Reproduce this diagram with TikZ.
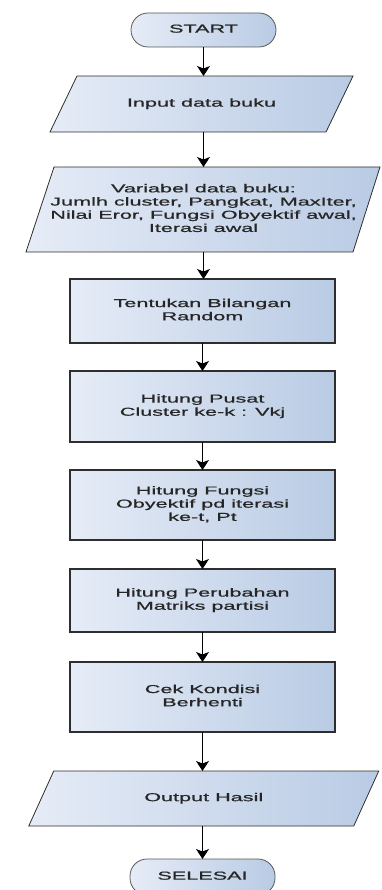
\documentclass[tikz,border=0pt]{standalone}
\usepackage{fontspec}
\usepackage{graphicx}
\setmainfont{Liberation Sans}
\newfontfamily\lbfont[FakeBold=0.6]{Liberation Sans}
\usetikzlibrary{arrows.meta,backgrounds}
\definecolor{fillL}{HTML}{E6ECF7}
\definecolor{fillR}{HTML}{B9CBE4}
\definecolor{edge}{HTML}{2E2E2E}
\definecolor{txtc}{HTML}{262626}
\newcommand{\tx}[1]{\raisebox{-1.8pt}{\scalebox{1.88}[1]{\begin{tabular}{@{}c@{}}#1\end{tabular}}}}
\tikzset{
  lbl/.style={inner sep=0pt, outer sep=0pt, text=txtc, font=\lbfont\fontsize{11.5}{13.2}\selectfont},
  procbox/.style={lbl, draw=edge, line width=1.1pt, left color=fillL, right color=fillR, minimum width=265pt},
  termbox/.style={lbl, draw=edge!80, line width=0.8pt, left color=fillL, right color=fillR, rounded corners=17pt, minimum width=145pt},
  iobox/.style={lbl},
  ioshape/.style={draw=edge, line width=0.8pt, left color=fillL, right color=fillR},
  arr/.style={draw=black, line width=1.1pt, -{Stealth[length=10pt,width=13pt,inset=2.5pt]}}
}
\begin{document}
\begin{tikzpicture}[x=1pt,y=1pt]
\useasboundingbox (0,0) rectangle (382,-890);
\clip (0,0) rectangle (382,-890);

\node[termbox, minimum height=34pt] (start) at (203.5,-30) {\tx{START}};
\node[iobox, minimum width=276pt, minimum height=56pt] (input) at (201.5,-104) {\tx{Input data buku}};
\node[iobox, minimum width=327pt, minimum height=85pt] (var) at (203.5,-209.5) {\tx{Variabel data buku:\\Jumlh cluster, Pangkat, MaxIter,\\Nilai Eror, Fungsi Obyektif awal,\\Iterasi awal}};
\node[procbox, minimum height=64pt] (tent) at (202.5,-311) {\tx{Tentukan Bilangan\\Random}};
\node[procbox, minimum height=71pt] (pusat) at (202.5,-406.5) {\tx{Hitung Pusat\\Cluster ke-k : Vkj}};
\node[procbox, minimum height=70pt] (fungsi) at (202.5,-505) {\tx{Hitung Fungsi\\Obyektif pd iterasi\\ke-t, Pt}};
\node[procbox, minimum height=63pt] (perub) at (202.5,-600.5) {\tx{Hitung Perubahan\\Matriks partisi}};
\node[procbox, minimum height=70pt] (cek) at (202.5,-697) {\tx{Cek Kondisi\\Berhenti}};
\node[iobox, minimum width=325pt, minimum height=55pt] (output) at (203.75,-798.5) {\tx{Output Hasil}};
\node[termbox, minimum height=36pt] (selesai) at (202.5,-877) {\tx{SELESAI}};

\begin{scope}[on background layer]
\path[ioshape] ([xshift=13.5pt]input.north west) -- ([xshift=13.5pt]input.north east) -- ([xshift=-13.5pt]input.south east) -- ([xshift=-13.5pt]input.south west) -- cycle;
\path[ioshape] ([xshift=14pt]var.north west) -- ([xshift=13pt]var.north east) -- ([xshift=-14pt]var.south east) -- ([xshift=-14pt]var.south west) -- cycle;
\path[ioshape] ([xshift=12.5pt]output.north west) -- ([xshift=12.5pt]output.north east) -- ([xshift=-12.5pt]output.south east) -- ([xshift=-12.5pt]output.south west) -- cycle;
\end{scope}

\draw[arr] (start.south) -- (start.south |- input.north);
\draw[arr] (start.south |- input.south) -- (start.south |- var.north);
\draw[arr] (start.south |- var.south) -- (start.south |- tent.north);
\draw[arr] (tent.south) -- (pusat.north);
\draw[arr] (pusat.south) -- (fungsi.north);
\draw[arr] (fungsi.south) -- (perub.north);
\draw[arr] (perub.south) -- (cek.north);
\draw[arr] (cek.south) -- (cek.south |- output.north);
\draw[arr] (cek.south |- output.south) -- (selesai.north);
\end{tikzpicture}
\end{document}
